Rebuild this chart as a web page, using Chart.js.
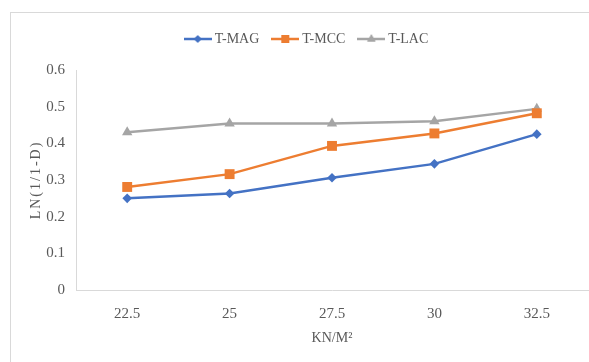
<!DOCTYPE html>
<html>
<head>
<meta charset="utf-8">
<script src="https://cdn.jsdelivr.net/npm/chart.js@4"></script>
<style>
  html, body { margin: 0; padding: 0; background: #ffffff; }
  #wrap { width: 589px; height: 362px; position: relative; }
</style>
</head>
<body>
<div id="wrap"><canvas id="c" width="589" height="362"></canvas></div>
<script>
// ---- data ----
const categories = ['22.5', '25', '27.5', '30', '32.5'];
const seriesNames = ['T-MAG', 'T-MCC', 'T-LAC'];
const tMAG = [0.250, 0.263, 0.306, 0.344, 0.425];
const tMCC = [0.281, 0.316, 0.393, 0.427, 0.482];
const tLAC = [0.430, 0.454, 0.454, 0.460, 0.494];
const yTickLabels = ['0', '0.1', '0.2', '0.3', '0.4', '0.5', '0.6'];
const xTitle = 'KN/M²';
const yTitle = 'LN(1/1-D)';

// ---- styles ----
const colors = ['#4472C4', '#ED7D31', '#A5A5A5'];
const styles = ['rectRot', 'rect', 'triangle'];
const radii = [4.8, 7, 6];
const FONT = '"Liberation Serif", "Times New Roman", serif';
const TEXT = '#595959';
const AXIS = '#D9D9D9';

function legendIcon(color, style, r) {
  const cv = document.createElement('canvas');
  cv.width = 28; cv.height = 14;
  const g = cv.getContext('2d');
  g.strokeStyle = color; g.fillStyle = color; g.lineWidth = 2.5;
  g.beginPath(); g.moveTo(0, 7); g.lineTo(28, 7); g.stroke();
  Chart.helpers.drawPoint(g, {pointStyle: style, radius: r, borderWidth: 0}, 14, 7);
  g.fill();
  return cv;
}

const seriesData = [tMAG, tMCC, tLAC];
const datasets = seriesData.map((d, i) => ({
  label: seriesNames[i],
  data: d,
  borderColor: colors[i],
  backgroundColor: colors[i],
  borderWidth: 2.5,
  pointStyle: styles[i],
  pointRadius: radii[i],
  pointHoverRadius: radii[i],
  pointBorderWidth: 0,
  tension: 0,
  fill: false
}));

const decor = {
  id: 'decor',
  beforeInit(chart) {
    const lg = chart.legend;
    if (lg) {
      const f = lg.fit;
      lg.fit = function () { f.call(this); this.height += 14; };
    }
  },
  beforeDraw(chart) {
    const ctx = chart.ctx;
    ctx.save();
    ctx.fillStyle = '#ffffff';
    ctx.fillRect(0, 0, chart.width, chart.height);
    ctx.strokeStyle = AXIS;
    ctx.lineWidth = 1;
    ctx.strokeRect(10.5, 12.5, 700, 500);
    ctx.restore();
    const ys = chart.scales.y;
    if (ys && !ys._patched) {
      const orig = ys.drawTitle;
      ys.drawTitle = function () {
        const c = this.ctx;
        const prev = c.letterSpacing;
        c.letterSpacing = '2px';
        orig.apply(this, arguments);
        c.letterSpacing = prev || '0px';
      };
      ys._patched = true;
    }
  }
};

new Chart(document.getElementById('c'), {
  type: 'line',
  data: { labels: categories, datasets },
  plugins: [decor],
  options: {
    responsive: false,
    animation: false,
    devicePixelRatio: 1,
    layout: { autoPadding: false, padding: { left: 28, right: 1, top: 16, bottom: 0 } },
    plugins: {
      tooltip: { enabled: false },
      legend: {
        position: 'top',
        labels: {
          usePointStyle: true,
          pointStyleWidth: 20,
          padding: 16,
          color: TEXT,
          font: { family: FONT, size: 14 },
          generateLabels(chart) {
            return chart.data.datasets.map((ds, i) => ({
              text: ds.label,
              fillStyle: colors[i],
              strokeStyle: colors[i],
              lineWidth: 0,
              fontColor: TEXT,
              pointStyle: legendIcon(colors[i], styles[i], radii[i] * 0.8),
              datasetIndex: i,
              hidden: false
            }));
          }
        }
      }
    },
    scales: {
      x: {
        type: 'category',
        offset: true,
        grid: { display: false, drawTicks: false },
        border: { display: true, color: AXIS, width: 1 },
        ticks: { color: TEXT, font: { family: FONT, size: 15 }, padding: 15, maxRotation: 0 },
        title: { display: true, text: xTitle, color: TEXT, font: { family: FONT, size: 14 }, padding: { top: 0, bottom: 15 } },
        afterFit(s) { s.height = 72; s.paddingLeft = 0; s.paddingRight = 0; }
      },
      y: {
        min: 0,
        max: 0.6,
        grid: { display: false, drawTicks: false },
        border: { display: true, color: AXIS, width: 1 },
        ticks: {
          stepSize: 0.1,
          color: TEXT,
          font: { family: FONT, size: 15 },
          padding: 11,
          callback: (v, i) => yTickLabels[i]
        },
        title: { display: true, text: yTitle, color: TEXT, font: { family: FONT, size: 14 }, padding: { top: 0, bottom: 0 } },
        afterFit(s) { s.width = 48; }
      }
    }
  }
});
</script>
</body>
</html>
